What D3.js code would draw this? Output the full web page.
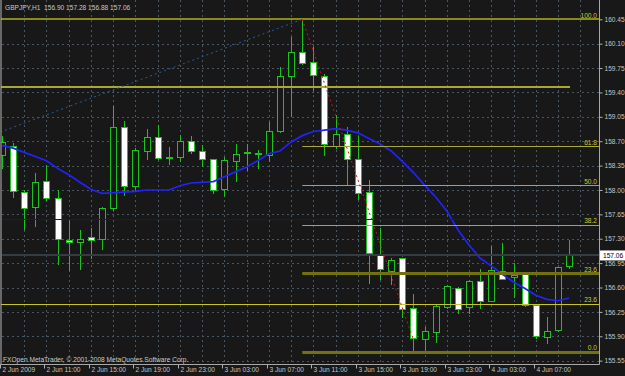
<!DOCTYPE html>
<html><head><meta charset="utf-8">
<script src="https://cdn.jsdelivr.net/npm/d3@7"></script>
<style>
html,body{margin:0;padding:0;background:#171817;}
svg{display:block;}
text{font-family:"Liberation Sans",Arial,sans-serif;}
</style></head><body>
<svg id="c" width="625" height="376"></svg>
<script>
// ---- data (GBPJPY H1, 2 Jun 2009 07:00 ... 4 Jun 2009 10:00) ----
const open  = [158.50,158.63,157.97,157.75,158.13,157.88,157.28,157.24,157.32,157.29,
               157.75,158.90,158.05,158.56,158.76,158.47,158.48,158.71,158.56,158.44,
               158.01,158.41,158.53,158.53,158.50,158.84,159.63,159.98,159.83,159.64,
               158.64,158.80,158.44,157.97,157.08,156.84,157.02,156.30,155.87,155.97,
               156.32,156.60,156.32,156.69,156.41,156.84,156.75,156.79,156.35,155.90,
               155.98,156.90];
const high  = [158.78,158.68,158.00,158.24,158.36,158.00,157.57,157.43,157.46,157.76,
               159.21,158.99,158.60,158.87,158.93,158.62,158.79,158.77,158.65,158.45,
               158.48,158.66,158.66,158.57,158.98,159.76,160.20,160.45,160.05,159.67,
               159.08,158.90,158.78,158.15,157.46,157.02,157.03,156.50,156.03,156.35,
               156.64,156.61,156.71,156.86,157.19,157.24,156.95,156.80,156.36,156.18,
               156.90,157.28];
const low   = [158.31,157.90,157.44,157.48,157.86,156.94,156.85,156.86,157.03,157.15,
               157.71,157.93,157.98,158.45,158.45,158.37,158.41,158.53,158.34,157.96,
               157.92,158.13,158.28,158.31,158.41,158.83,159.06,159.81,159.44,158.50,
               158.60,158.09,157.87,156.67,156.72,156.65,156.18,155.68,155.70,155.82,
               156.31,156.24,156.24,156.31,156.40,156.72,156.47,156.33,155.87,155.81,
               155.97,156.88];
const close = [158.69,157.98,157.74,158.11,157.89,157.29,157.25,157.29,157.28,157.74,
               158.91,158.05,158.57,158.76,158.46,158.48,158.71,158.57,158.44,158.00,
               158.43,158.51,158.54,158.52,158.85,159.63,159.98,159.82,159.64,158.66,
               158.81,158.44,157.95,157.09,156.86,157.00,156.29,155.87,155.98,156.34,
               156.62,156.30,156.70,156.41,156.85,156.73,156.78,156.34,155.91,155.98,
               156.89,157.06];
const ma    = [158.64,158.60,158.54,158.48,158.42,158.31,158.22,158.11,158.01,157.95,
               157.96,157.97,157.98,158.00,158.00,158.00,158.06,158.10,158.11,158.12,
               158.19,158.26,158.33,158.42,158.52,158.56,158.69,158.78,158.84,158.86,
               158.88,158.86,158.82,158.74,158.66,158.56,158.41,158.25,158.07,157.90,
               157.70,157.43,157.21,157.02,156.91,156.79,156.68,156.59,156.49,156.43,
               156.41,156.45];
const priceTicks = [160.45,160.10,159.75,159.40,159.05,158.70,158.35,158.00,157.65,157.30,156.95,156.60,156.25,155.90,155.55];
const timeTickBars = [0,4,8,12,16,20,24,28,32,36,40,44,48];
const timeTickLabels = ["2 Jun 2009","2 Jun 11:00","2 Jun 15:00","2 Jun 19:00","2 Jun 23:00","3 Jun 03:00","3 Jun 07:00","3 Jun 11:00","3 Jun 15:00","3 Jun 19:00","3 Jun 23:00","4 Jun 03:00","4 Jun 07:00"];
const fibHigh = 160.45, fibLow = 155.68, fibStartBar = 27;
const fibLevels = [0.0, 23.6, 38.2, 50.0, 61.8, 100.0];
const hLineYellow = 159.48, hLineNavy = 157.58, hLine236 = 156.36;
const bidPrice = 157.06;
const trendBlue = [{bar:0, price:158.84},{bar:27, price:160.45}];
const trendRed  = [{bar:27, price:160.45},{bar:37, price:155.85}];
const title = "GBPJPY,H1  156.90 157.28 156.88 157.06";
const copyright = "FXOpen MetaTrader, \u00A9 2001-2008 MetaQuotes Software Corp.";

// ---- layout ----
const W = 625, H = 376;
const pL = 2, pR = 599, pT = 0, pB = 364;
const x = d3.scaleLinear().domain([0, 1]).range([2, 13.12]);
const y = d3.scaleLinear().domain([155.502, 160.727]).range([pB, pT]);
const svg = d3.select("#c");
const BG = "#171817";
svg.append("rect").attr("width", W).attr("height", H).attr("fill", BG);
svg.append("defs").append("clipPath").attr("id","plot")
  .append("rect").attr("x", 1).attr("y", 0).attr("width", pR - 1).attr("height", pB);
const plot = svg.append("g").attr("clip-path","url(#plot)");
const px = v => Math.round(v) + 0.5;
const snap = (v, w) => (Math.round(w) % 2 === 1) ? Math.round(v) + 0.5 : Math.round(v);

// grid
const gridBars = d3.range(2, 54, 2);
plot.selectAll(".vg").data(gridBars).join("line")
  .attr("x1", d => px(x(d))).attr("x2", d => px(x(d)))
  .attr("y1", 0).attr("y2", pB)
  .attr("stroke", "#4a5662").attr("stroke-dasharray","2,3");
plot.selectAll(".hg").data(priceTicks).join("line")
  .attr("x1", pL).attr("x2", pR)
  .attr("y1", d => px(y(d))).attr("y2", d => px(y(d)))
  .attr("stroke", "#4a5662").attr("stroke-dasharray","2,3");

// candles
const idx = d3.range(open.length);
const GREEN = "#1ec21e";
const cg = plot.append("g");
cg.selectAll(".wick").data(idx).join("line")
  .attr("x1", i => px(x(i))).attr("x2", i => px(x(i)))
  .attr("y1", i => Math.round(y(high[i]))).attr("y2", i => Math.round(y(low[i])) + 1)
  .attr("stroke", GREEN).attr("stroke-width", 1);
cg.selectAll(".body").data(idx).join("rect")
  .attr("x", i => Math.round(x(i)) - 2.5)
  .attr("width", 6)
  .attr("y", i => px(Math.min(y(open[i]), y(close[i]))))
  .attr("height", i => Math.max(1, Math.round(Math.abs(y(open[i]) - y(close[i])))))
  .attr("fill", i => close[i] >= open[i] ? BG : "#ffffff")
  .attr("stroke", GREEN).attr("stroke-width", 1);

// moving average
plot.append("path").datum(idx)
  .attr("d", d3.line().x(i => x(i)).y(i => y(ma[i])))
  .attr("fill","none").attr("stroke","#2222ff").attr("stroke-width",1.7);

// horizontal objects
const hl = (p, x1, x2, col, w) => plot.append("line")
  .attr("x1", x1).attr("x2", x2).attr("y1", snap(y(p), w)).attr("y2", snap(y(p), w))
  .attr("stroke", col).attr("stroke-width", w);
hl(bidPrice, pL, pR, "#353d42", 2);
hl(hLineYellow, 0, 570, "#a8a832", 2);
hl(hLineNavy, 0, 570, "#10109c", 1);
hl(hLine236, 0, pR, "#c6c628", 1);
const fibX = x(fibStartBar);
const fibStyle = {0:["#727212",3], 23.6:["#717112",3], 38.2:["#a8a83a",1], 50:["#a8a83a",1], 61.8:["#a8a83a",1], 100:["#8a8a18",2]};
fibLevels.forEach(l => {
  const p = fibLow + (fibHigh - fibLow) * l / 100;
  const s = fibStyle[l];
  hl(p, l === 100 ? 0 : fibX, pR, s[0], s[1]);
});

// trend lines (dotted)
const ext = (a, b, xa) => a.price + (b.price - a.price) * (xa - a.bar) / (b.bar - a.bar);
const tbStart = -1;
plot.append("line")
  .attr("x1", x(tbStart)).attr("y1", y(ext(trendBlue[0], trendBlue[1], tbStart)))
  .attr("x2", x(trendBlue[1].bar)).attr("y2", y(trendBlue[1].price))
  .attr("stroke","#2a5c9c").attr("stroke-dasharray","2,3");
plot.append("line")
  .attr("x1", x(trendRed[0].bar)).attr("y1", y(trendRed[0].price))
  .attr("x2", x(trendRed[1].bar)).attr("y2", y(trendRed[1].price))
  .attr("stroke","#d01414").attr("stroke-dasharray","2,3");

// fib labels
const fs = "6.6px";
fibLevels.forEach(l => {
  const p = fibLow + (fibHigh - fibLow) * l / 100;
  svg.append("text").attr("x", 597).attr("y", y(p) - 1.6)
    .attr("text-anchor","end").attr("font-size", fs).attr("fill","#c8c83a")
    .text(l.toFixed(1));
});
svg.append("text").attr("x", 597).attr("y", y(hLine236) - 2.5)
  .attr("text-anchor","end").attr("font-size", fs).attr("fill","#c8c83a").text("23.6");

// frame
svg.append("line").attr("x1",1).attr("x2",1).attr("y1",0).attr("y2",pB+0.5).attr("stroke","#b8b8b8");
svg.append("line").attr("x1",0.5).attr("x2",pR+0.5).attr("y1",pB+0.5).attr("y2",pB+0.5).attr("stroke","#a8a8a8");
svg.append("line").attr("x1",pR+0.5).attr("x2",pR+0.5).attr("y1",0).attr("y2",pB+0.5).attr("stroke","#a8a8a8");

// price axis
const ya = svg.append("g").attr("transform", `translate(${pR + 0.5},0)`)
  .call(d3.axisRight(y).tickValues(priceTicks).tickSize(3).tickPadding(2).tickFormat(d3.format(".2f")));
ya.select(".domain").remove();
ya.selectAll("line").attr("stroke","#b0b0b0");
ya.selectAll("text").attr("fill","#c4c4c4").attr("font-size",fs).attr("font-family","Liberation Sans, Arial, sans-serif");

// bid label
svg.append("rect").attr("x", 600).attr("y", y(bidPrice) - 5).attr("width", 25).attr("height", 10).attr("fill","#ffffff");
svg.append("text").attr("x", 603).attr("y", y(bidPrice) + 2.5).attr("font-size", fs).attr("fill","#000").text(bidPrice.toFixed(2));

// time axis
const xa = svg.append("g").attr("transform", `translate(0,${pB + 0.5})`)
  .call(d3.axisBottom(x).tickValues(timeTickBars).tickSize(4).tickFormat((d, k) => timeTickLabels[k]));
xa.select(".domain").remove();
xa.selectAll(".tick").attr("transform", d => `translate(${Math.round(x(d)) - 1.5},0)`);
xa.selectAll("line").attr("stroke","#b0b0b0");
xa.selectAll("text").attr("fill","#c4c4c4").attr("font-size",fs)
  .attr("font-family","Liberation Sans, Arial, sans-serif")
  .attr("text-anchor","start").attr("x", 2).attr("y", 3).attr("dy","0.71em");

// texts
svg.append("text").attr("x", 5).attr("y", 9.5).attr("font-size", fs).attr("fill","#c8c8c8")
  .style("white-space","pre").text(title);
svg.append("text").attr("x", 3).attr("y", 361.5).attr("font-size", fs).attr("fill","#c8c8c8").text(copyright);
</script>
</body></html>
